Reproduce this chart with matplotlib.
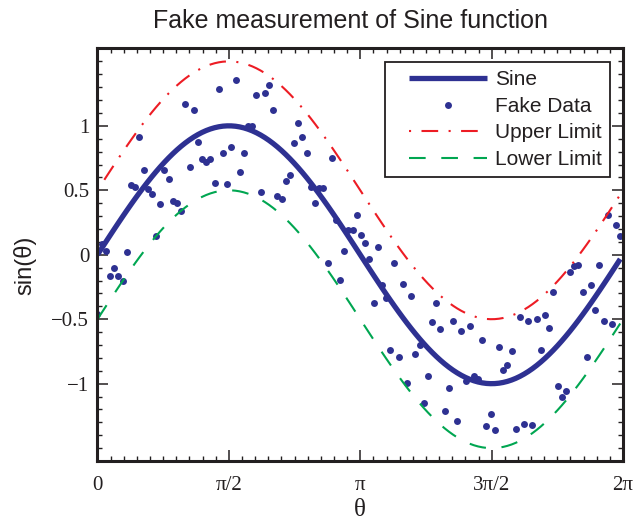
import numpy as np
import matplotlib
matplotlib.use("Agg")
import matplotlib.pyplot as plt
from matplotlib.ticker import MultipleLocator, FixedLocator
from matplotlib.legend_handler import HandlerLine2D


# sample step of the fake measurement (rad), read from dot spacing
step = 0.05

fake_y = [
    -0.458, 0.080, 0.028, -0.161, -0.104, -0.166, -0.205, 0.021, 0.539, 0.526,
    0.917, 0.661, 0.513, 0.474, 0.145, 0.394, 0.658, 0.585, 0.417, 0.399,
    0.342, 1.166, 0.681, 1.124, 0.873, 0.741, 0.723, 0.746, 0.554, 1.282,
    0.793, 0.547, 0.834, 1.357, 0.640, 0.790, 1.000, 0.997, 1.241, 0.484,
    1.251, 1.319, 1.122, 0.453, 0.430, 0.573, 0.619, 0.865, 1.021, 0.915,
    0.793, 0.528, 0.402, 0.518, 0.518, -0.067, 0.751, 0.267, -0.197, 0.026,
    0.189, 0.194, 0.311, 0.150, 0.091, -0.036, -0.378, 0.062, -0.238, -0.339,
    -0.738, -0.062, -0.795, -0.228, -0.995, -0.319, -0.772, -0.702, -1.150, -0.940,
    -0.521, -0.373, -0.575, -1.212, -1.036, -0.510, -1.288, -0.593, -0.982, -0.549,
    -0.940, -0.964, -0.658, -1.329, -1.233, -1.358, -0.718, -0.891, -0.858, -0.749,
    -1.352, -0.479, -1.313, -0.510, -1.319, -0.495, -0.738, -0.464, -0.567, -0.288,
    -1.021, -1.106, -1.060, -0.137, -0.091, -0.080, -0.288, -0.790, -0.238, -0.427,
    -0.083, -0.516, 0.306, -0.539, 0.231, 0.145,
]

x_ticks = [0, np.pi / 2, np.pi, 3 * np.pi / 2, 2 * np.pi]
x_labels = ["0", "π/2", "π", "3π/2", "2π"]
y_ticks = [-1, -0.5, 0, 0.5, 1]
y_labels = ["\u22121", "\u22120.5", "0", "0.5", "1"]

limit_offset = 0.5

blue = "#2E3192"
red = "#ED1C24"
green = "#00A651"
ink = "#231F20"
sans = ["Liberation Sans", "DejaVu Sans"]
serif = ["Liberation Serif", "DejaVu Serif"]


class PaddedLine(HandlerLine2D):
    # legend sample line leaves a blank lead-in on the left, like the original
    def get_xdata(self, legend, xdescent, ydescent, width, height, fontsize):
        x0 = -xdescent + 0.16 * width
        x1 = -xdescent + width
        return np.array([x0, x1]), np.array([(x0 + x1) / 2])


def make_plot():
    theta = np.arange(len(fake_y)) * step
    sine = np.sin(theta)

    fig = plt.figure(figsize=(6.36, 5.23), dpi=100)
    ax = fig.add_axes([0.1533, 0.1185, 0.8263, 0.7888])

    l1, = ax.plot(theta, sine, color=blue, lw=3.8, label="Sine", solid_capstyle="butt")
    l2, = ax.plot(theta, fake_y, "o", color=blue, ms=5, mec="none", label="Fake Data")
    l3, = ax.plot(theta, sine + limit_offset, color=red, lw=1.5,
                  ls=(13, (8, 5, 1, 5)), label="Upper Limit")
    l4, = ax.plot(theta, sine - limit_offset, color=green, lw=1.5,
                  ls=(0, (8, 7.5)), label="Lower Limit")

    ax.set_xlim(0, 2 * np.pi)
    ax.set_ylim(-1.6, 1.6)

    ax.xaxis.set_major_locator(FixedLocator(x_ticks))
    ax.xaxis.set_minor_locator(MultipleLocator(np.pi / 20))
    ax.yaxis.set_major_locator(FixedLocator(y_ticks))
    ax.yaxis.set_minor_locator(MultipleLocator(0.1))
    ax.set_xticklabels(x_labels, fontfamily=serif, fontsize=15)
    ax.set_yticklabels(y_labels, fontfamily=serif, fontsize=15)

    ax.tick_params(which="both", direction="in", top=True, right=True, color=ink,
                   labelcolor=ink)
    ax.tick_params(which="major", length=8, width=1.1)
    ax.tick_params(which="minor", length=3.6, width=1.0)
    ax.tick_params(axis="x", which="major", pad=10.5)
    ax.tick_params(axis="y", which="major", pad=6)
    for sp in ax.spines.values():
        sp.set_linewidth(2.2)
        sp.set_color(ink)

    ax.set_title("Fake measurement of Sine function", fontfamily=sans,
                 fontsize=18, pad=14.5, color=ink, loc="left", x=0.105)
    ax.set_xlabel("θ", fontfamily=serif, fontsize=18, color=ink, va="bottom")
    ax.xaxis.set_label_coords(0.5, -0.146)
    ax.set_ylabel("sin(θ)", fontfamily=sans, fontsize=17, color=ink)
    ax.yaxis.set_label_coords(-0.117, 0.475)

    pad_line = PaddedLine()
    leg = ax.legend(handles=[l1, l2, l3, l4],
                    handler_map={l1: pad_line, l2: pad_line, l3: pad_line, l4: pad_line},
                    loc="upper right", bbox_to_anchor=(0.9753, 0.967),
                    borderaxespad=0, fancybox=False, framealpha=1,
                    edgecolor=ink, numpoints=1, handlelength=4.45,
                    handletextpad=0.4, labelspacing=0.36, borderpad=0.4,
                    prop={"family": sans, "size": 15})
    leg.get_frame().set_linewidth(1.3)
    for t in leg.get_texts():
        t.set_color(ink)

    fig.savefig("out.png", dpi=100)


if __name__ == "__main__":
    make_plot()
